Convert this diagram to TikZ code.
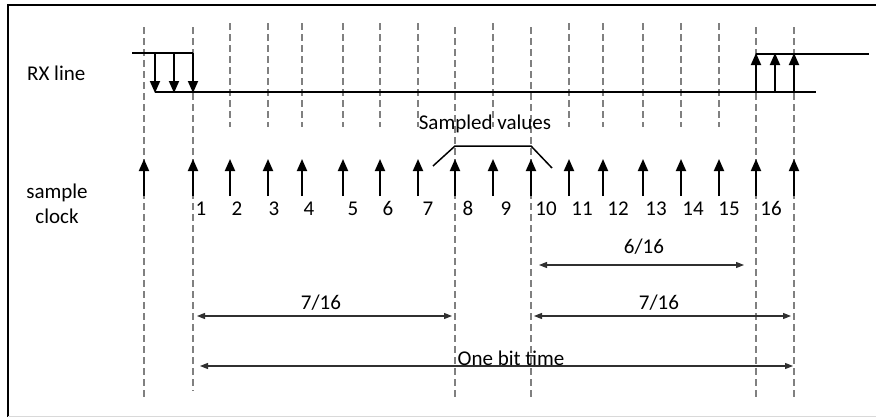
\documentclass[tikz,border=0pt]{standalone}
\usepackage{fontspec}
\setmainfont{Carlito}
\usetikzlibrary{arrows.meta}
\definecolor{dashgrey}{HTML}{808080}
\definecolor{dimline}{HTML}{303030}
\begin{document}
\begin{tikzpicture}[x=1pt,y=-1pt,
  every node/.style={font=\fontsize{21}{25}\selectfont, inner sep=0pt},
  guide/.style={draw=dashgrey, line width=1.5pt, dash pattern=on 7pt off 4pt},
  signal/.style={draw=black, line width=1.8pt},
  edgearrow/.style={draw=black, line width=1.8pt, -{Triangle[length=12pt,width=10pt]}},
  dimarrow/.style={draw=dimline, line width=1.1pt, {Triangle[length=8pt,width=6pt]}-{Triangle[length=8pt,width=6pt]}},
  numlabel/.style={anchor=base}]
\useasboundingbox (0,0) rectangle (876,418);
% frame
\draw[line width=2.2pt] (8,417) -- (8,5) -- (876,5);
\draw[line width=1pt, draw=black!15] (8,416.5) -- (876,416.5);

% long guides
\foreach \x/\b in {144/400,193/391,455/400,531/400,756/400,794/400}{
  \draw[guide] (\x,27) -- (\x,\b);
}
% short guides
\foreach \x in {230,268,302,343,380,418,493,569,603,643,681,719}{
  \draw[guide] (\x,23) -- (\x,127);
}

% labels
\node[anchor=west] (rx) at (27,73) {RX line};
\node[align=center] (sc) at (57,204) {sample\\clock};

% RX line
\coordinate (h1a) at (132,53);
\coordinate (h1b) at (193,53);
\coordinate (l1a) at (155,92);
\coordinate (l1b) at (816,92);
\coordinate (h2a) at (756,54);
\coordinate (h2b) at (869,54);
\draw[signal] (h1a) -- (h1b);
\draw[signal] (l1a) -- (l1b);
\draw[signal] (h2a) -- (h2b);
\foreach \x in {155,174,193}{
  \draw[edgearrow] (\x,53) -- (\x,93);
}
\foreach \x in {756,775,794}{
  \draw[edgearrow] (\x,92) -- (\x,53);
}

% sample clock arrows
\foreach \x in {144,193,230,268,302,343,380,418,455,493,531,569,603,643,681,719,756,794}{
  \draw[edgearrow] (\x,196) -- (\x,159);
}

% numbers
\foreach \n/\x in {1/201,2/237,3/274,4/309,5/353,6/388,7/428,8/468,9/506,10/546,11/582,12/618,13/656,14/693,15/729,16/771}{
  \node[numlabel] (n\n) at (\x,215) {\n};
}

% sampled values bracket
\node (sv) at (485,124) {Sampled values};
\coordinate (b1) at (433,166);
\coordinate (b2) at (455,146);
\coordinate (b3) at (531,146);
\coordinate (b4) at (552,168);
\draw[line width=1.5pt] (b1) -- (b2) -- (b3) -- (b4);

% dimension arrows
\coordinate (d1a) at (539,265);
\coordinate (d1b) at (744,265);
\draw[dimarrow] (d1a) -- (d1b);
\node (t1) at (644,247) {6/16};

\coordinate (d2a) at (197,316);
\coordinate (d2b) at (452,316);
\draw[dimarrow] (d2a) -- (d2b);
\node (t2) at (321,303) {7/16};

\coordinate (d3a) at (534,316);
\coordinate (d3b) at (791,316);
\draw[dimarrow] (d3a) -- (d3b);
\node (t3) at (659,303) {7/16};

\coordinate (d4a) at (200,366);
\coordinate (d4b) at (793,366);
\draw[dimarrow] (d4a) -- (d4b);
\node[anchor=base] (t4) at (511,365) {One bit time};
\end{tikzpicture}
\end{document}
